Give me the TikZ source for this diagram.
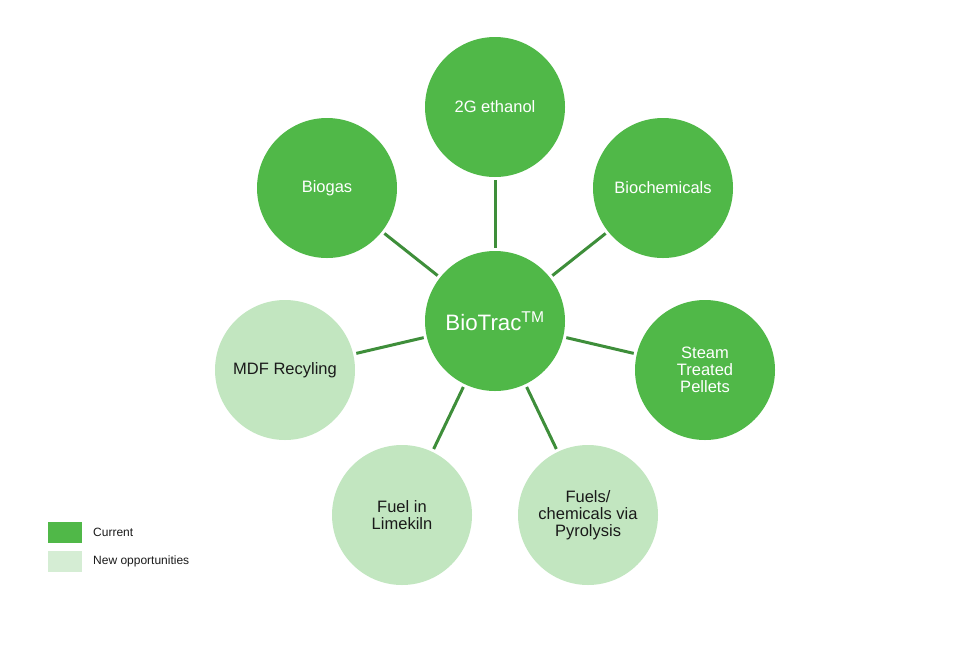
\documentclass[tikz,border=0pt]{standalone}
\usepackage{fontspec}
\setmainfont{Liberation Sans}
\definecolor{dkgreen}{HTML}{50B848}
\definecolor{ltgreen}{HTML}{C2E6C0}
\definecolor{lggreen}{HTML}{D5EDD4}
\definecolor{lnclr}{HTML}{3E8E3A}
\definecolor{txt}{HTML}{1A1A1A}
\begin{document}
\begin{tikzpicture}[x=1pt,y=-1pt,
  cur/.style={circle,fill=dkgreen,minimum size=140pt,inner sep=0pt,text=white,align=center,font=\fontsize{16.5}{17}\selectfont},
  nov/.style={circle,fill=ltgreen,minimum size=140pt,inner sep=0pt,text=txt,align=center,font=\fontsize{16.5}{17}\selectfont},
  conn/.style={draw=lnclr,line width=3pt,shorten <=3pt,shorten >=3pt},
  legbox/.style={fill=#1,minimum width=34pt,minimum height=21pt,inner sep=0pt},
  legtxt/.style={anchor=west,inner sep=0pt,text=txt,font=\fontsize{12}{14}\selectfont}]
\useasboundingbox (0,0) rectangle (955,654);
\node[cur,font=\fontsize{22.3}{24}\selectfont] (c) at (495,321) {BioTrac\textsuperscript{TM}};
\node[cur] (eth) at (495,107) {2G ethanol};
\node[cur] (bg) at (327,188) {Biogas};
\node[cur] (bc) at (663,188) {Biochemicals};
\node[cur] (stp) at (705,370) {Steam\\Treated\\Pellets};
\node[nov] (mdf) at (285,370) {MDF Recyling};
\node[nov] (lk) at (402,515) {Fuel in\\Limekiln};
\node[nov] (py) at (588,515) {Fuels/\\chemicals via\\Pyrolysis};
\foreach \n in {eth,bg,bc,stp,mdf,lk,py} \draw[conn] (c) -- (\n);
\node[legbox=dkgreen] (l1) at (65,532.5) {};
\node[legbox=lggreen] (l2) at (65,561) {};
\node[legtxt] (t1) at (93,532.5) {Current};
\node[legtxt] (t2) at (93,561) {New opportunities};
\end{tikzpicture}
\end{document}
